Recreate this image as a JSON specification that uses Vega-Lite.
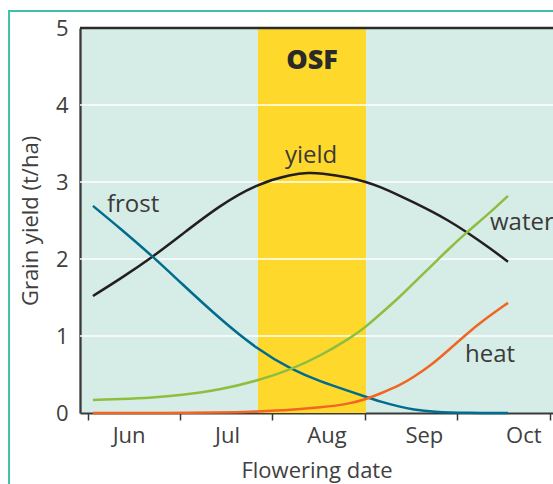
{
  "$schema": "https://vega.github.io/schema/vega-lite/v6.json",
  "width": 473,
  "height": 385,
  "autosize": {"type": "none"},
  "padding": {"left": 80, "top": 28, "right": 0, "bottom": 71},
  "background": "white",
  "config": {
    "view": {"stroke": null, "fill": "#d6ece6"},
    "font": "Open Sans",
    "text": {"font": "Open Sans"}
  },
  "datasets": {
    "frame": [{"x": 5.149, "x2": 12.5, "y": 5.22, "y2": -2}],
    "band": [{"x": 7.843, "x2": 9.012, "y": 0, "y2": 5, "name": "OSF"}],
    "grid": [{"y": 1}, {"y": 2}, {"y": 3}, {"y": 4}],
    "top": [{"y": 5}],
    "curves": [
      {"series": "yield", "x": 6.057, "y": 1.52},
      {"series": "yield", "x": 6.35, "y": 1.74},
      {"series": "yield", "x": 6.707, "y": 2.03},
      {"series": "yield", "x": 7.0, "y": 2.3},
      {"series": "yield", "x": 7.432, "y": 2.7},
      {"series": "yield", "x": 7.843, "y": 2.98},
      {"series": "yield", "x": 8.211, "y": 3.1},
      {"series": "yield", "x": 8.395, "y": 3.12},
      {"series": "yield", "x": 8.514, "y": 3.115},
      {"series": "yield", "x": 8.839, "y": 3.06},
      {"series": "yield", "x": 9.012, "y": 3.0},
      {"series": "yield", "x": 9.163, "y": 2.94},
      {"series": "yield", "x": 9.38, "y": 2.82},
      {"series": "yield", "x": 9.521, "y": 2.74},
      {"series": "yield", "x": 9.737, "y": 2.61},
      {"series": "yield", "x": 9.889, "y": 2.51},
      {"series": "yield", "x": 10.105, "y": 2.35},
      {"series": "yield", "x": 10.354, "y": 2.14},
      {"series": "yield", "x": 10.549, "y": 1.965},
      {"series": "frost", "x": 6.057, "y": 2.69},
      {"series": "frost", "x": 6.35, "y": 2.4},
      {"series": "frost", "x": 6.707, "y": 2.03},
      {"series": "frost", "x": 7.0, "y": 1.7},
      {"series": "frost", "x": 7.432, "y": 1.22},
      {"series": "frost", "x": 7.843, "y": 0.82},
      {"series": "frost", "x": 8.211, "y": 0.56},
      {"series": "frost", "x": 8.514, "y": 0.41},
      {"series": "frost", "x": 8.839, "y": 0.28},
      {"series": "frost", "x": 9.012, "y": 0.21},
      {"series": "frost", "x": 9.163, "y": 0.15},
      {"series": "frost", "x": 9.38, "y": 0.08},
      {"series": "frost", "x": 9.521, "y": 0.045},
      {"series": "frost", "x": 9.737, "y": 0.015},
      {"series": "frost", "x": 10.105, "y": 0.0},
      {"series": "frost", "x": 10.549, "y": 0.0},
      {"series": "water", "x": 6.057, "y": 0.17},
      {"series": "water", "x": 6.35, "y": 0.18},
      {"series": "water", "x": 6.707, "y": 0.2},
      {"series": "water", "x": 7.0, "y": 0.23},
      {"series": "water", "x": 7.432, "y": 0.3},
      {"series": "water", "x": 7.843, "y": 0.42},
      {"series": "water", "x": 8.211, "y": 0.57},
      {"series": "water", "x": 8.514, "y": 0.74},
      {"series": "water", "x": 8.839, "y": 0.97},
      {"series": "water", "x": 9.012, "y": 1.12},
      {"series": "water", "x": 9.163, "y": 1.28},
      {"series": "water", "x": 9.38, "y": 1.51},
      {"series": "water", "x": 9.521, "y": 1.68},
      {"series": "water", "x": 9.737, "y": 1.93},
      {"series": "water", "x": 9.889, "y": 2.11},
      {"series": "water", "x": 10.105, "y": 2.35},
      {"series": "water", "x": 10.354, "y": 2.6},
      {"series": "water", "x": 10.549, "y": 2.82},
      {"series": "heat", "x": 6.057, "y": 0.0},
      {"series": "heat", "x": 6.707, "y": 0.0},
      {"series": "heat", "x": 7.432, "y": 0.005},
      {"series": "heat", "x": 7.843, "y": 0.02},
      {"series": "heat", "x": 8.211, "y": 0.04},
      {"series": "heat", "x": 8.514, "y": 0.07},
      {"series": "heat", "x": 8.839, "y": 0.12},
      {"series": "heat", "x": 9.012, "y": 0.18},
      {"series": "heat", "x": 9.163, "y": 0.25},
      {"series": "heat", "x": 9.38, "y": 0.36},
      {"series": "heat", "x": 9.521, "y": 0.46},
      {"series": "heat", "x": 9.737, "y": 0.64},
      {"series": "heat", "x": 9.889, "y": 0.8},
      {"series": "heat", "x": 10.105, "y": 1.03},
      {"series": "heat", "x": 10.278, "y": 1.2},
      {"series": "heat", "x": 10.549, "y": 1.43}
    ],
    "labels": [
      {"label": "frost", "x": 6.209, "y": 2.61},
      {"label": "yield", "x": 8.135, "y": 3.243},
      {"label": "water", "x": 10.354, "y": 2.377},
      {"label": "heat", "x": 10.083, "y": 0.666}
    ]
  },
  "layer": [
    {
      "data": {"name": "frame"},
      "mark": {"type": "rect", "fill": null, "stroke": "#3fbfae", "strokeWidth": 2, "clip": false},
      "encoding": {
        "x": {"field": "x", "type": "quantitative"},
        "x2": {"field": "x2"},
        "y": {"field": "y", "type": "quantitative"},
        "y2": {"field": "y2"}
      }
    },
    {
      "data": {"name": "band"},
      "mark": {"type": "rect", "fill": "#fed92c"},
      "encoding": {
        "x": {
          "field": "x",
          "type": "quantitative",
          "scale": {"domain": [5.917, 11.036], "nice": false, "zero": false},
          "axis": {
            "values": [6, 7, 8, 9, 10, 11],
            "grid": false,
            "domainColor": "#3a3a3a",
            "domainWidth": 2,
            "tickColor": "#3a3a3a",
            "tickWidth": 1.5,
            "tickSize": 7,
            "labelExpr": "datum.value == 6 ? 'Jun' : datum.value == 7 ? 'Jul' : datum.value == 8 ? 'Aug' : datum.value == 9 ? 'Sep' : datum.value == 10 ? 'Oct' : ''",
            "labelOffset": {
              "condition": [
                {"test": "datum.value == 6", "value": 41},
                {"test": "datum.value == 7", "value": 47},
                {"test": "datum.value == 8", "value": 54},
                {"test": "datum.value == 9", "value": 59}
              ],
              "value": 66
            },
            "labelFlush": false,
            "labelOverlap": false,
            "labelBound": false,
            "labelFontSize": 22,
            "labelFontWeight": "normal",
            "labelColor": "#404040",
            "labelBaseline": "alphabetic",
            "labelPadding": 22,
            "title": "Flowering date",
            "titleFontSize": 22,
            "titleFontWeight": "normal",
            "titleColor": "#404040",
            "titleBaseline": "alphabetic",
            "titleY": 64
          }
        },
        "x2": {"field": "x2"},
        "y": {
          "field": "y",
          "type": "quantitative",
          "scale": {"domain": [0, 5], "nice": false},
          "axis": {
            "values": [0, 1, 2, 3, 4, 5],
            "format": "d",
            "grid": false,
            "ticks": false,
            "domainColor": "#3a3a3a",
            "domainWidth": 2.3,
            "labelFontSize": 22,
            "labelFontWeight": "normal",
            "labelColor": "#404040",
            "labelPadding": 12,
            "labelBaseline": "middle",
            "title": "Grain yield (t/ha)",
            "titleFontSize": 22,
            "titleFontWeight": "normal",
            "titleColor": "#404040",
            "titleBaseline": "alphabetic",
            "titleAlign": "center",
            "titleX": -43,
            "titleY": 192.5
          }
        },
        "y2": {"field": "y2"}
      }
    },
    {
      "data": {"name": "grid"},
      "mark": {"type": "rule", "color": "white", "strokeWidth": 1.5},
      "encoding": {"y": {"field": "y", "type": "quantitative"}}
    },
    {
      "data": {"name": "top"},
      "mark": {"type": "rule", "color": "#2a2a2a", "strokeWidth": 2.3},
      "encoding": {"y": {"field": "y", "type": "quantitative"}}
    },
    {
      "data": {"name": "curves"},
      "mark": {"type": "line", "interpolate": "basis", "strokeWidth": 2.5},
      "encoding": {
        "x": {"field": "x", "type": "quantitative"},
        "y": {"field": "y", "type": "quantitative"},
        "color": {
          "field": "series",
          "type": "nominal",
          "scale": {"domain": ["heat", "water", "frost", "yield"], "range": ["#f26522", "#8dbe3f", "#006c8e", "#231f20"]},
          "legend": null
        },
        "order": {"field": "x", "type": "quantitative"}
      }
    },
    {
      "data": {"name": "labels"},
      "mark": {"type": "text", "align": "left", "baseline": "alphabetic", "fontSize": 24, "fontWeight": "normal", "color": "#3a3a3a", "clip": false},
      "encoding": {
        "x": {"field": "x", "type": "quantitative"},
        "y": {"field": "y", "type": "quantitative"},
        "text": {"field": "label"}
      }
    },
    {
      "data": {"name": "band"},
      "mark": {"type": "text", "align": "center", "baseline": "alphabetic", "fontSize": 27, "fontWeight": 800, "color": "#2a2a2a"},
      "transform": [{"calculate": "(datum.x + datum.x2) / 2", "as": "xm"}],
      "encoding": {
        "x": {"field": "xm", "type": "quantitative"},
        "y": {"datum": 4.464},
        "text": {"field": "name"}
      }
    }
  ]
}
